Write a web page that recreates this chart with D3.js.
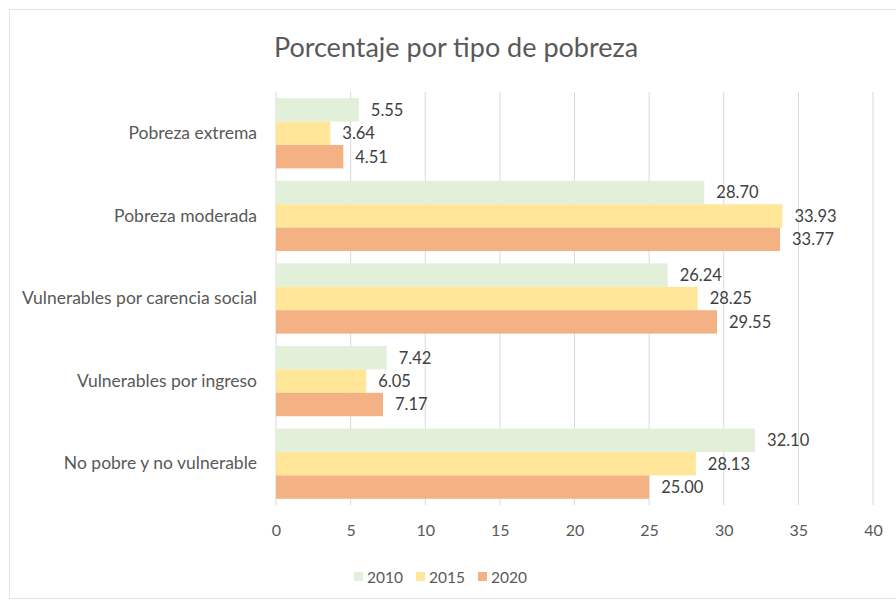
<!DOCTYPE html>
<html><head><meta charset="utf-8">
<script src="https://cdn.jsdelivr.net/npm/d3@7"></script>
<style>body{margin:0;background:#fff}svg{display:block}</style>
</head><body><svg id="c" width="896" height="603"></svg>
<script>
const categories = ["Pobreza extrema","Pobreza moderada","Vulnerables por carencia social","Vulnerables por ingreso","No pobre y no vulnerable"];
const years = ["2010","2015","2020"];
const v2010 = [5.55,28.70,26.24,7.42,32.10];
const v2015 = [3.64,33.93,28.25,6.05,28.13];
const v2020 = [4.51,33.77,29.55,7.17,25.00];
const xTicks = [0,5,10,15,20,25,30,35,40];
const colors = ["#e2efd9","#ffe699","#f4b183"];
const series = [v2010,v2015,v2020];

const svg = d3.select("#c");
const font = "Lato, 'Open Sans', sans-serif";
svg.append("rect").attr("x",9.5).attr("y",9.5).attr("width",900).attr("height",589)
  .attr("fill","#fff").attr("stroke","#e3e3e3");

const x = d3.scaleLinear().domain([0,40]).range([276,873]);
const y = d3.scaleBand().domain(categories).range([92,505]).paddingInner(0.15).paddingOuter(0.075);
const yi = d3.scaleBand().domain(years).range([0,y.bandwidth()]);

svg.append("text").attr("x",456).attr("y",57).attr("text-anchor","middle")
  .attr("font-family",font).attr("font-size",27).attr("fill","#595959").text("Porcentaje por tipo de pobreza");

// gridlines
svg.append("g").selectAll("line").data(xTicks).join("line")
  .attr("x1",d=>x(d)).attr("x2",d=>x(d)).attr("y1",92).attr("y2",505)
  .attr("stroke","#d9d9d9").attr("stroke-width",1);

// x axis
const xa = svg.append("g").attr("transform","translate(0,505)")
  .call(d3.axisBottom(x).tickValues(xTicks).tickSize(0).tickPadding(20));
xa.select(".domain").remove();
xa.selectAll("text").attr("font-family",font).attr("font-size",16).attr("fill","#595959");

// y axis labels
const ya = svg.append("g").attr("transform","translate(276,0)")
  .call(d3.axisLeft(y).tickSize(0).tickPadding(19));
ya.select(".domain").remove();
ya.selectAll("text").attr("font-family",font).attr("font-size",17.5).attr("fill","#595959");

// bars
series.forEach((vals,si)=>{
  const g = svg.append("g");
  g.selectAll("rect").data(vals).join("rect")
    .attr("x",x(0)).attr("y",(d,i)=>y(categories[i])+yi(years[si]))
    .attr("width",d=>x(d)-x(0)).attr("height",yi.bandwidth())
    .attr("fill",colors[si]);
  g.selectAll("text").data(vals).join("text")
    .attr("x",d=>x(d)+12).attr("y",(d,i)=>y(categories[i])+yi(years[si])+yi.bandwidth()/2)
    .attr("dy","0.36em").attr("font-family",font).attr("font-size",16.5).attr("fill","#404040")
    .text(d=>d.toFixed(2));
});

// legend
const lx = [354,416,478];
const lg = svg.append("g");
years.forEach((yr,i)=>{
  lg.append("rect").attr("x",lx[i]).attr("y",572).attr("width",9).attr("height",9).attr("fill",colors[i]);
  lg.append("text").attr("x",lx[i]+13).attr("y",577).attr("dy","0.36em")
    .attr("font-family",font).attr("font-size",15.5).attr("fill","#595959").text(yr);
});
</script></body></html>
